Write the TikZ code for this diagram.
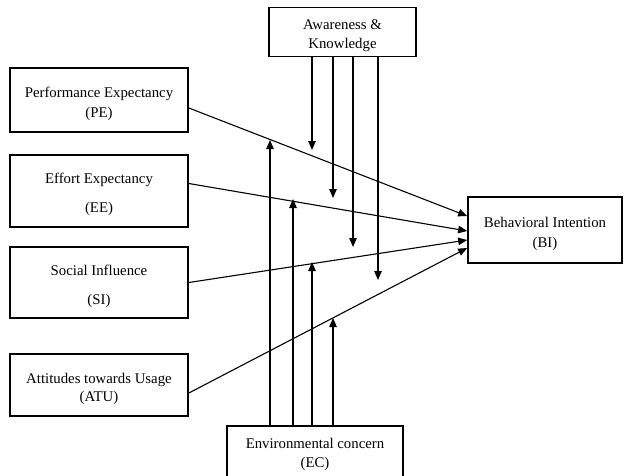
\documentclass[tikz,border=0pt]{standalone}
\usepackage{fontspec}
\setmainfont{Liberation Serif}
\usetikzlibrary{arrows.meta,calc}
% extra head room so the two text lines sit a little below the box centre
\newcommand\boxtopgap{\rule{0pt}{18pt}}
\begin{document}
\begin{tikzpicture}[x=1pt,y=-1pt,
  box/.style={draw,rectangle,line width=1.7pt,align=center,inner sep=0pt,
    font=\fontsize{14.8}{20}\selectfont},
  link/.style={line width=1.1pt,-{Triangle[length=9pt,width=7.5pt]}}]
\useasboundingbox (0,0) rectangle (625,475);
\clip (0,0) rectangle (625,475);

% constructs
\node[box,minimum width=178,minimum height=64] (PE) at (99,100)
  {\boxtopgap Performance Expectancy\\(PE)};
\node[box,minimum width=178,minimum height=72] (EE) at (99,191)
  {\boxtopgap Effort Expectancy\\[9pt](EE)};
\node[box,minimum width=178,minimum height=71] (SI) at (99,282.5)
  {\boxtopgap Social Influence\\[9pt](SI)};
\node[box,minimum width=178,minimum height=62] (ATU) at (99,385)
  {\boxtopgap Attitudes towards Usage\\[-2pt](ATU)};
\node[box,minimum width=154,minimum height=66] (BI) at (545,230)
  {\boxtopgap Behavioral Intention\\(BI)};
\node[box,minimum width=147,minimum height=49] (AK) at (342.5,32)
  {\boxtopgap Awareness \&\\[-1pt]Knowledge};
\node[box,minimum width=176,minimum height=56] (EC) at (315,454)
  {Environmental concern\\[-1pt](EC)};

% direct paths to behavioral intention
\draw[link] ([yshift=-8pt]PE.east) -- ([yshift=14pt]BI.west);
\draw[link] ([yshift=7.5pt]EE.east) -- ([yshift=-1pt]BI.west);
\draw[link] (SI.east) -- ([yshift=-10pt]BI.west);
\draw[link] ([yshift=-8pt]ATU.east) -- ([yshift=-18pt]BI.west);

% moderating arrows from awareness & knowledge
\coordinate (m1) at (312,150);
\coordinate (m2) at (333,198);
\coordinate (m3) at (353,247);
\coordinate (m4) at (378,280);
\foreach \m in {m1,m2,m3,m4}
  \draw[link] (\m |- AK.south) -- (\m);

% moderating arrows from environmental concern
\coordinate (e1) at (270,140);
\coordinate (e2) at (293,199);
\coordinate (e3) at (312,262);
\coordinate (e4) at (333,318);
\foreach \e in {e1,e2,e3,e4}
  \draw[link] (\e |- EC.north) -- (\e);
\end{tikzpicture}
\end{document}
